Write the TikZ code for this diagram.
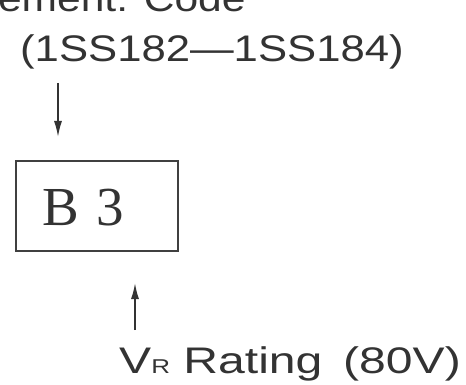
\documentclass[tikz,border=0pt]{standalone}
\usepackage{fontspec}
\setmainfont{Liberation Serif}
\newfontfamily\labelfont{Liberation Sans}
\usetikzlibrary{arrows.meta}
\tikzset{
  lbl/.style={font=\labelfont\fontsize{37}{40}\selectfont, inner sep=0pt, anchor=base west, text=black!80},
  codebox/.style={draw=black!75, line width=1.8pt, minimum width=162pt, minimum height=90pt, inner sep=0pt},
  boxtext/.style={font=\fontsize{55}{60}\selectfont, inner sep=0pt, anchor=base west, text=black!80},
  ptr/.style={draw=black!80, line width=1.6pt, -{Latex[length=16pt,width=8pt]}}
}
\begin{document}
\begin{tikzpicture}[x=1pt,y=-1pt]
\useasboundingbox (0,0) rectangle (466,385);
\node[lbl] (top) at (-40,12) {\scalebox{1.15}[1]{Element: Code}};
\node[lbl] (parts) at (20,62) {\scalebox{1.18}[1]{(1SS182—1SS184)}};
\node[codebox, anchor=north west] (box) at (15,160) {};
\node[boxtext] (b3) at (42,225) {B\hspace{18pt}3};
\coordinate (dstart) at (58,83);
\coordinate (dend) at (58,137);
\coordinate (ustart) at (135,330);
\coordinate (uend) at (135,283);
\draw[ptr] (dstart) -- (dend);
\node[lbl] (vr) at (119,373) {\scalebox{1.3}[1]{V{\fontsize{20}{20}\selectfont R} Rating\hspace{16pt}(80V)}};
\draw[ptr] (ustart) -- (uend);
\end{tikzpicture}
\end{document}
